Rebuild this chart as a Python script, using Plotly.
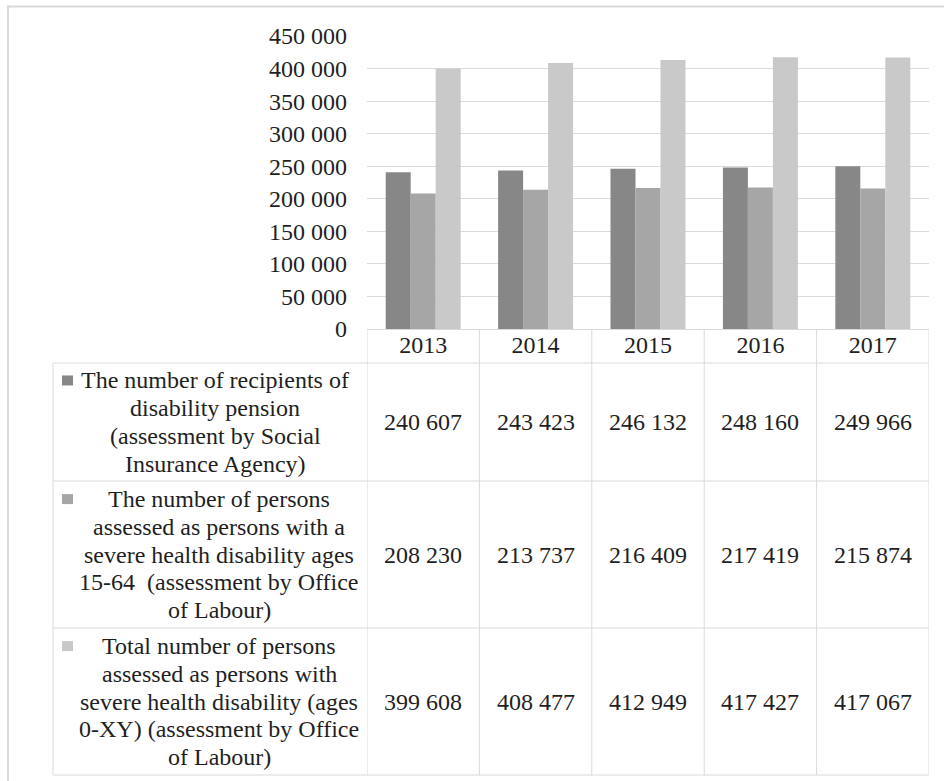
import plotly.graph_objects as go

# ---- data ----
years = ["2013", "2014", "2015", "2016", "2017"]

recipients_pension = [240607, 243423, 246132, 248160, 249966]
severe_15_64 = [208230, 213737, 216409, 217419, 215874]
severe_total = [399608, 408477, 412949, 417427, 417067]

series_values = [recipients_pension, severe_15_64, severe_total]
series_colors = ["#878787", "#a6a6a6", "#c9c9c9"]

row_label_lines = [
    ["The number of recipients of", "disability pension",
     "(assessment by Social", "Insurance Agency)"],
    ["The number of persons", "assessed as persons with a",
     "severe health disability ages", "15-64\u00a0 (assessment by Office",
     "of Labour)"],
    ["Total number of persons", "assessed as persons with",
     "severe health disability (ages", "0-XY) (assessment by Office",
     "of Labour)"],
]
series_names = [" ".join(lines) for lines in row_label_lines]

# ---- geometry (pixels of the 944x781 canvas) ----
W, H = 944, 781
FONT = '"Liberation Serif", "Times New Roman", serif'
TXT = "#1f1f1f"
GRID = "#dadada"
FS = 24

plot_left, plot_right = 367, 929
plot_top, plot_bottom = 36, 329
table_left = 53
row_edges = [363, 481, 628, 775]          # bottom of header, then each row bottom
row_text_cx = [215, 219, 219]
line_step = 27.7
key_x0, key_x1 = 62, 73


def px(x):
    return x / W


def py(y):
    return 1 - y / H


fig = go.Figure()
for name, vals, col in zip(series_names, series_values, series_colors):
    fig.add_trace(go.Bar(x=years, y=vals, name=name, marker_color=col,
                         marker_line_width=0, showlegend=False))

shapes = []
annotations = []

# outer chart frame (top and left edges visible)
shapes.append(dict(type="line", xref="paper", yref="paper",
                   x0=px(7), x1=px(W + 5), y0=py(6.5), y1=py(6.5),
                   line=dict(color="#d9d9d9", width=2)))
shapes.append(dict(type="line", xref="paper", yref="paper",
                   x0=px(8), x1=px(8), y0=py(6), y1=py(H + 5),
                   line=dict(color="#d9d9d9", width=2)))

# data table: vertical column separators follow the category axis
for i in range(len(years) + 1):
    shapes.append(dict(type="line", xref="x", yref="paper",
                       x0=i - 0.5, x1=i - 0.5,
                       y0=py(plot_bottom), y1=py(row_edges[-1]),
                       line=dict(color=GRID, width=1)))
shapes.append(dict(type="line", xref="paper", yref="paper",
                   x0=px(table_left), x1=px(table_left),
                   y0=py(row_edges[0]), y1=py(row_edges[-1]),
                   line=dict(color=GRID, width=1)))
for y in row_edges:
    shapes.append(dict(type="line", xref="paper", yref="paper",
                       x0=px(table_left), x1=px(plot_right),
                       y0=py(y), y1=py(y),
                       line=dict(color=GRID, width=1)))

# row labels with legend keys, and values
for r, (lines, vals, col) in enumerate(zip(row_label_lines, series_values,
                                           series_colors)):
    top, bot = row_edges[r], row_edges[r + 1]
    cy = (top + bot) / 2
    n = len(lines)
    first_y = cy - (n - 1) / 2 * line_step
    for k, line in enumerate(lines):
        annotations.append(dict(
            xref="paper", yref="paper", x=px(row_text_cx[r]),
            y=py(first_y + k * line_step), text=line, showarrow=False,
            xanchor="center", yanchor="middle",
            font=dict(family=FONT, size=FS, color=TXT)))
    shapes.append(dict(type="rect", xref="paper", yref="paper",
                       x0=px(key_x0), x1=px(key_x1),
                       y0=py(first_y - 5), y1=py(first_y + 5),
                       fillcolor=col, line=dict(width=0)))
    for ci, v in enumerate(vals):
        annotations.append(dict(
            xref="x", yref="paper", x=ci, y=py(cy),
            text=f"{v:,}".replace(",", " "), showarrow=False,
            xanchor="center", yanchor="middle",
            font=dict(family=FONT, size=FS, color=TXT)))

fig.update_layout(
    width=W, height=H,
    margin=dict(l=0, r=0, t=0, b=0, pad=0, autoexpand=False),
    paper_bgcolor="white", plot_bgcolor="white",
    separators=". ",
    barmode="group", bargap=0.333, bargroupgap=0,
    font=dict(family=FONT, size=FS, color=TXT),
    shapes=shapes, annotations=annotations,
    xaxis=dict(
        domain=[px(plot_left), px(plot_right)],
        type="category", range=[-0.5, len(years) - 0.5],
        showgrid=False, zeroline=False, automargin=False,
        showline=True, linecolor=GRID, linewidth=1,
        ticks="", ticklabelstandoff=-6,
        tickfont=dict(family=FONT, size=FS, color=TXT),
    ),
    yaxis=dict(
        domain=[py(plot_bottom), py(plot_top)],
        range=[0, 450000], dtick=50000, tickformat=",d",
        showgrid=True, gridcolor=GRID, gridwidth=1,
        zeroline=False, showline=False, ticks="", automargin=False,
        ticklabelstandoff=19,
        tickfont=dict(family=FONT, size=FS, color=TXT),
    ),
)

fig.write_html("out.html")
